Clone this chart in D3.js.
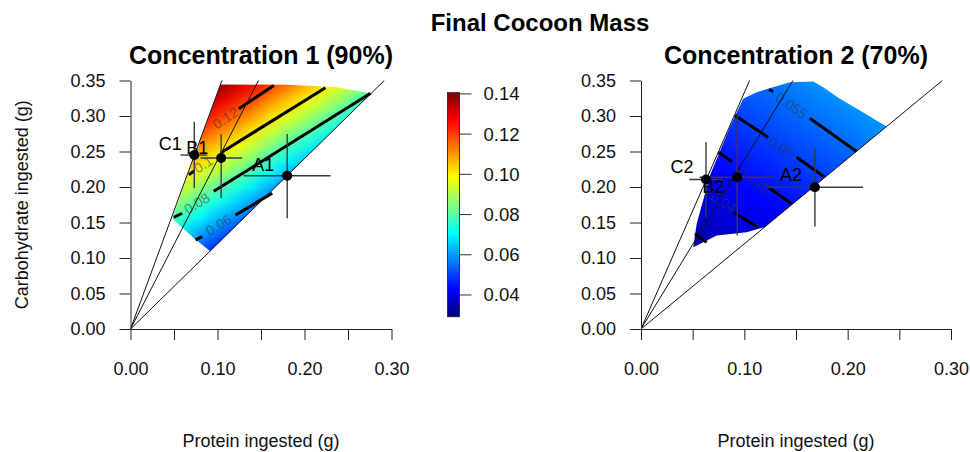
<!DOCTYPE html>
<html><head><meta charset="utf-8">
<script src="https://cdn.jsdelivr.net/npm/d3@7"></script>
<style>
body{margin:0;background:#fff}
svg{display:block;font-family:"Liberation Sans",Arial,Helvetica,sans-serif}
</style>
</head><body>
<svg id="chart" width="970" height="452"></svg>
<script>
// ================= DATA =================
const mainTitle = "Final Cocoon Mass";
const xAxisTitle = "Protein ingested (g)";
const yAxisTitle = "Carbohydrate ingested (g)";
const xTickValues = [0, 0.05, 0.10, 0.15, 0.20, 0.25, 0.30];
const xTickLabels = ["0.00", "", "0.10", "", "0.20", "", "0.30"];
const yTickValues = [0, 0.05, 0.10, 0.15, 0.20, 0.25, 0.30, 0.35];
const yTickLabels = ["0.00", "0.05", "0.10", "0.15", "0.20", "0.25", "0.30", "0.35"];
const colorbarTicks = [0.04, 0.06, 0.08, 0.10, 0.12, 0.14];
const colorbarLabels = ["0.04", "0.06", "0.08", "0.10", "0.12", "0.14"];
const massRange = [0.0292, 0.1406];
const railSlopes = [1.2, 2.38, 3.33];

// ---- Concentration 1 ----
const title1 = "Concentration 1 (90%)";
const dietLabels1 = ["A1", "B1", "C1"];
const protein1 = [0.1801, 0.1042, 0.0733];
const carb1 = [0.2159, 0.2408, 0.2450];
const proteinLo1 = [0.1302, 0.0805, 0.0575];
const proteinHi1 = [0.2299, 0.1284, 0.0882];
const carbLo1 = [0.1559, 0.1845, 0.1982];
const carbHi1 = [0.2746, 0.2746, 0.2920];
const gridProtein1 = [0.04, 0.06, 0.08, 0.10, 0.12, 0.14, 0.16, 0.18, 0.20, 0.22, 0.24, 0.26, 0.28, 0.30];
const gridCarb1 = [0.10, 0.12, 0.14, 0.16, 0.18, 0.20, 0.22, 0.24, 0.26, 0.28, 0.30, 0.32, 0.34, 0.36];
const massGrid1 = [
  [null, 0.053, 0.047, 0.041, 0.035, null, null, null, null, null, null, null, null, null],
  [0.068, 0.061, 0.055, 0.049, 0.043, 0.037, null, null, null, null, null, null, null, null],
  [0.076, 0.069, 0.063, 0.057, 0.051, 0.045, 0.038, null, null, null, null, null, null, null],
  [0.084, 0.077, 0.071, 0.065, 0.059, 0.053, 0.046, 0.040, null, null, null, null, null, null],
  [0.092, 0.085, 0.079, 0.073, 0.067, 0.061, 0.054, 0.048, 0.042, null, null, null, null, null],
  [0.100, 0.093, 0.087, 0.081, 0.075, 0.069, 0.062, 0.056, 0.050, 0.044, null, null, null, null],
  [0.108, 0.101, 0.095, 0.089, 0.083, 0.077, 0.070, 0.064, 0.058, 0.052, 0.046, null, null, null],
  [0.116, 0.109, 0.103, 0.097, 0.091, 0.085, 0.078, 0.072, 0.066, 0.060, 0.054, 0.047, null, null],
  [null, 0.117, 0.111, 0.105, 0.099, 0.093, 0.086, 0.080, 0.074, 0.068, 0.062, 0.055, 0.049, null],
  [null, 0.125, 0.119, 0.113, 0.107, 0.101, 0.094, 0.088, 0.082, 0.076, 0.070, 0.063, 0.057, 0.051],
  [null, 0.133, 0.127, 0.121, 0.115, 0.109, 0.102, 0.096, 0.090, 0.084, 0.078, 0.071, 0.065, 0.059],
  [null, null, 0.135, 0.129, 0.123, 0.117, 0.110, 0.104, 0.098, 0.092, 0.086, 0.079, 0.073, 0.067],
  [null, null, 0.143, 0.137, 0.131, 0.125, 0.118, 0.112, 0.106, 0.100, 0.094, 0.087, 0.081, 0.075],
  [null, null, 0.151, 0.145, 0.139, 0.133, 0.126, 0.120, 0.114, 0.108, 0.102, 0.095, 0.089, 0.083]
];
const hull1 = [[0.0479, 0.1555], [0.1034, 0.3444], [0.1800, 0.3440], [0.2350, 0.3410], [0.2765, 0.3318],
               [0.0915, 0.1095], [0.0728, 0.1280]];
const contourLabels1 = ["0.06", "0.08", "0.1", "0.12"];
const contourSegments1 = [
  [[[0.0747, 0.1254], [0.0824, 0.1300]], [[0.1207, 0.1606], [0.1629, 0.1911]]],
  [[[0.0498, 0.1573], [0.0594, 0.1630]], [[0.0957, 0.1939], [0.2759, 0.3320]]],
  [[[0.0670, 0.2173], [0.0736, 0.2230]], [[0.1034, 0.2479], [0.2241, 0.3399]]],
  [[[0.1245, 0.3103], [0.1647, 0.3430]]]
];
const contourLabelAt1 = [[0.1015, 0.1465], [0.0762, 0.1770], [0.0837, 0.2320], [0.1090, 0.2970]];

// ---- Concentration 2 ----
const title2 = "Concentration 2 (70%)";
const dietLabels2 = ["A2", "B2", "C2"];
const protein2 = [0.1683, 0.0931, 0.0629];
const carb2 = [0.1997, 0.2138, 0.2106];
const proteinLo2 = [0.1216, 0.0567, 0.0467];
const proteinHi2 = [0.2150, 0.1296, 0.0790];
const carbLo2 = [0.1444, 0.1317, 0.1575];
const carbHi2 = [0.2561, 0.3031, 0.2631];
const gridProtein2 = [0.04, 0.06, 0.08, 0.10, 0.12, 0.14, 0.16, 0.18, 0.20, 0.22, 0.24, 0.26];
const gridCarb2 = [0.10, 0.12, 0.14, 0.16, 0.18, 0.20, 0.22, 0.24, 0.26, 0.28, 0.30, 0.32, 0.34, 0.36];
const massGrid2 = [
  [0.0318, 0.0332, 0.0347, 0.0361, 0.0376, 0.0390, 0.0405, 0.0419, 0.0434, 0.0448, 0.0463, 0.0477],
  [0.0332, 0.0347, 0.0361, 0.0376, 0.0390, 0.0405, 0.0419, 0.0434, 0.0448, 0.0463, 0.0477, 0.0492],
  [0.0347, 0.0361, 0.0376, 0.0390, 0.0405, 0.0419, 0.0434, 0.0448, 0.0463, 0.0477, 0.0492, 0.0506],
  [0.0361, 0.0376, 0.0390, 0.0405, 0.0419, 0.0434, 0.0448, 0.0463, 0.0477, 0.0492, 0.0506, 0.0521],
  [0.0376, 0.0390, 0.0405, 0.0419, 0.0434, 0.0448, 0.0463, 0.0477, 0.0492, 0.0506, 0.0521, 0.0535],
  [0.0390, 0.0405, 0.0419, 0.0434, 0.0448, 0.0463, 0.0477, 0.0492, 0.0506, 0.0521, 0.0535, 0.0550],
  [0.0405, 0.0419, 0.0434, 0.0448, 0.0463, 0.0477, 0.0492, 0.0506, 0.0521, 0.0535, 0.0550, 0.0564],
  [0.0419, 0.0434, 0.0448, 0.0463, 0.0477, 0.0492, 0.0506, 0.0521, 0.0535, 0.0550, 0.0564, 0.0579],
  [0.0434, 0.0448, 0.0463, 0.0477, 0.0492, 0.0506, 0.0521, 0.0535, 0.0550, 0.0564, 0.0579, 0.0593],
  [0.0448, 0.0463, 0.0477, 0.0492, 0.0506, 0.0521, 0.0535, 0.0550, 0.0564, 0.0579, 0.0593, 0.0608],
  [0.0463, 0.0477, 0.0492, 0.0506, 0.0521, 0.0535, 0.0550, 0.0564, 0.0579, 0.0593, 0.0608, 0.0622],
  [0.0477, 0.0492, 0.0506, 0.0521, 0.0535, 0.0550, 0.0564, 0.0579, 0.0593, 0.0608, 0.0622, 0.0637],
  [0.0492, 0.0506, 0.0521, 0.0535, 0.0550, 0.0564, 0.0579, 0.0593, 0.0608, 0.0622, 0.0637, 0.0651],
  [0.0506, 0.0521, 0.0535, 0.0550, 0.0564, 0.0579, 0.0593, 0.0608, 0.0622, 0.0637, 0.0651, 0.0666]
];
const hull2 = [[0.0506, 0.1152], [0.0539, 0.1482], [0.0667, 0.2162], [0.0861, 0.2850], [0.0989, 0.3242],
               [0.1119, 0.3335], [0.1441, 0.3476], [0.1667, 0.3486], [0.1763, 0.3406], [0.1925, 0.3242],
               [0.2118, 0.3077], [0.2376, 0.2851], [0.1195, 0.1434], [0.1022, 0.1363], [0.0732, 0.1317]];
const contourLabels2 = ["", "0.04", "0.045", "0.05", "0.055"];
const contourSegments2 = [
  [[[0.0522, 0.1341], [0.0635, 0.1223]]],
  [[[0.0893, 0.1645], [0.1134, 0.1434]]],
  [[[0.0748, 0.2490], [0.0877, 0.2359]], [[0.1231, 0.1997], [0.1457, 0.1763]]],
  [[[0.0909, 0.3007], [0.1231, 0.2701]], [[0.1506, 0.2420], [0.1779, 0.2138]]],
  [[[0.1238, 0.3373], [0.1280, 0.3345]], [[0.1634, 0.2969], [0.2086, 0.2500]]]
];
const contourLabelAt2 = [[0.0580, 0.1280], [0.0796, 0.1786], [0.1086, 0.2092], [0.1361, 0.2561], [0.1457, 0.3148]];

// ================= LAYOUT / STYLE =================
const FONT = '"Liberation Sans", Arial, Helvetica, sans-serif';
const plotTop = 80.5, plotBottom = 329;
const panels = [
  { left: 130.5, right: 391.5, title: title1, labels: dietLabels1, px: protein1, py: carb1,
    pxLo: proteinLo1, pxHi: proteinHi1, pyLo: carbLo1, pyHi: carbHi1,
    gx: gridProtein1, gy: gridCarb1, grid: massGrid1, hull: hull1,
    cLabels: contourLabels1, cSegs: contourSegments1, cLabelAt: contourLabelAt1,
    labelDy: [-11, -10, -11], yTitle: true },
  { left: 641, right: 951, title: title2, labels: dietLabels2, px: protein2, py: carb2,
    pxLo: proteinLo2, pxHi: proteinHi2, pyLo: carbLo2, pyHi: carbHi2,
    gx: gridProtein2, gy: gridCarb2, grid: massGrid2, hull: hull2,
    cLabels: contourLabels2, cSegs: contourSegments2, cLabelAt: contourLabelAt2,
    labelDy: [-12, 10, -12], yTitle: false }
];

const jetStops = ["#00007F", "#0000FF", "#007FFF", "#00FFFF", "#7FFF7F", "#FFFF00", "#FF7F00", "#FF0000", "#7F0000"];
const color = d3.scaleLinear()
  .domain(jetStops.map((_, i) => massRange[0] + i * (massRange[1] - massRange[0]) / (jetStops.length - 1)))
  .range(jetStops).interpolate(d3.interpolateRgb).clamp(true);

const svg = d3.select("#chart");
svg.append("rect").attr("width", 970).attr("height", 452).attr("fill", "#fff");

svg.append("text").attr("x", 540).attr("y", 31).attr("text-anchor", "middle")
  .attr("font-size", 24).attr("font-weight", "bold").attr("fill", "#000").text(mainTitle);

const defs = svg.append("defs");

panels.forEach((p, pi) => {
  const x = d3.scaleLinear().domain([0, 0.30]).range([p.left, p.right]);
  const y = d3.scaleLinear().domain([0, 0.35]).range([plotBottom, plotTop]);
  const g = svg.append("g");

  // plot clip
  const plotClipId = "plotclip" + pi;
  defs.append("clipPath").attr("id", plotClipId).append("rect")
    .attr("x", p.left).attr("y", plotTop - 1).attr("width", 400).attr("height", plotBottom - plotTop + 1);

  // region clip
  const hullClipId = "hullclip" + pi;
  defs.append("clipPath").attr("id", hullClipId).append("path")
    .attr("d", d3.line().x(d => x(d[0])).y(d => y(d[1])).curve(d3.curveLinearClosed)(p.hull));

  // heat surface: small raster of grid nodes, smoothed when scaled to plot coordinates
  const nC = p.gx.length, nR = p.gy.length;
  const small = document.createElement("canvas");
  small.width = nC; small.height = nR;
  const sctx = small.getContext("2d");
  const img = sctx.createImageData(nC, nR);
  for (let r = 0; r < nR; r++) {
    for (let c = 0; c < nC; c++) {
      const v = p.grid[r][c];
      const idx = ((nR - 1 - r) * nC + c) * 4;
      if (v === null) { img.data[idx + 3] = 0; continue; }
      const col = d3.rgb(color(v));
      img.data[idx] = col.r; img.data[idx + 1] = col.g; img.data[idx + 2] = col.b; img.data[idx + 3] = 255;
    }
  }
  sctx.putImageData(img, 0, 0);
  const stepX = p.gx[1] - p.gx[0], stepY = p.gy[1] - p.gy[0];
  const bx0 = x(p.gx[0] - stepX / 2), bx1 = x(p.gx[nC - 1] + stepX / 2);
  const by0 = y(p.gy[nR - 1] + stepY / 2), by1 = y(p.gy[0] - stepY / 2);
  const bw = Math.ceil(bx1 - bx0), bh = Math.ceil(by1 - by0);
  const big = document.createElement("canvas");
  big.width = bw; big.height = bh;
  const bctx = big.getContext("2d");
  bctx.imageSmoothingEnabled = true;
  bctx.imageSmoothingQuality = "low";
  bctx.drawImage(small, 0, 0, bw, bh);
  g.append("g").attr("clip-path", `url(#${hullClipId})`)
    .append("image").attr("x", bx0).attr("y", by0).attr("width", bw).attr("height", bh)
    .attr("preserveAspectRatio", "none").attr("href", big.toDataURL());

  // contour lines
  const cg = g.append("g");
  p.cSegs.forEach((segs, li) => {
    segs.forEach(s => {
      cg.append("line").attr("x1", x(s[0][0])).attr("y1", y(s[0][1]))
        .attr("x2", x(s[1][0])).attr("y2", y(s[1][1]))
        .attr("stroke", "#000").attr("stroke-width", 3);
    });
    if (p.cLabels[li]) {
      const longest = segs.reduce((a, b) =>
        Math.hypot(x(b[1][0]) - x(b[0][0]), y(b[1][1]) - y(b[0][1])) >
        Math.hypot(x(a[1][0]) - x(a[0][0]), y(a[1][1]) - y(a[0][1])) ? b : a);
      let ang = Math.atan2(y(longest[1][1]) - y(longest[0][1]), x(longest[1][0]) - x(longest[0][0])) * 180 / Math.PI;
      if (ang > 90) ang -= 180; if (ang < -90) ang += 180;
      const lx = x(p.cLabelAt[li][0]), ly = y(p.cLabelAt[li][1]);
      cg.append("text").attr("transform", `translate(${lx},${ly}) rotate(${ang})`)
        .attr("text-anchor", "middle").attr("dominant-baseline", "central")
        .attr("font-size", 14).attr("fill", "#333").attr("fill-opacity", 0.55).text(p.cLabels[li]);
    }
  });

  // rails
  g.append("g").attr("clip-path", `url(#${plotClipId})`).selectAll("line").data(railSlopes).join("line")
    .attr("x1", x(0)).attr("y1", y(0))
    .attr("x2", k => x(Math.min(0.35 / k, 0.30))).attr("y2", k => y(Math.min(0.35, 0.30 * k)))
    .attr("stroke", "#111").attr("stroke-width", 1);

  // error bars
  const eb = g.append("g").attr("stroke", "#3a3a3a").attr("stroke-width", 1.4);
  p.px.forEach((v, i) => {
    eb.append("line").attr("x1", x(p.pxLo[i])).attr("x2", x(p.pxHi[i])).attr("y1", y(p.py[i])).attr("y2", y(p.py[i]));
    eb.append("line").attr("x1", x(v)).attr("x2", x(v)).attr("y1", y(p.pyLo[i])).attr("y2", y(p.pyHi[i]));
  });
  // points
  g.append("g").selectAll("circle").data(p.px).join("circle")
    .attr("cx", d => x(d)).attr("cy", (d, i) => y(p.py[i])).attr("r", 5).attr("fill", "#000");
  // point labels
  g.append("g").selectAll("text").data(p.labels).join("text")
    .attr("x", (d, i) => x(p.px[i]) - 24).attr("y", (d, i) => y(p.py[i]) + p.labelDy[i])
    .attr("text-anchor", "middle").attr("dominant-baseline", "central")
    .attr("font-size", 18).attr("fill", "#000").text(d => d);

  // axes
  const xAxis = g.append("g").attr("transform", `translate(0,${plotBottom})`)
    .call(d3.axisBottom(x).tickValues(xTickValues).tickFormat((d, i) => xTickLabels[i])
      .tickSize(11).tickSizeOuter(0).tickPadding(22));
  const yAxis = g.append("g").attr("transform", `translate(${x(0)},0)`)
    .call(d3.axisLeft(y).tickValues(yTickValues).tickFormat((d, i) => yTickLabels[i])
      .tickSize(11).tickSizeOuter(0).tickPadding(14));
  [xAxis, yAxis].forEach(a => {
    a.attr("font-family", FONT).attr("font-size", 18);
    a.selectAll("path,line").attr("stroke", "#222").attr("stroke-width", 1);
    a.selectAll("text").attr("fill", "#111");
  });

  // titles
  g.append("text").attr("x", (p.left + p.right) / 2).attr("y", 64).attr("text-anchor", "middle")
    .attr("font-size", 25).attr("font-weight", "bold").attr("fill", "#000").text(p.title);
  g.append("text").attr("x", (p.left + p.right) / 2).attr("y", 447).attr("text-anchor", "middle")
    .attr("font-size", 18).attr("fill", "#111").text(xAxisTitle);
  if (p.yTitle) {
    g.append("text").attr("transform", `translate(28,${(plotTop + plotBottom) / 2}) rotate(-90)`)
      .attr("text-anchor", "middle").attr("font-size", 18).attr("fill", "#111").text(yAxisTitle);
  }
});

// colorbar
const cbX = 447.5, cbW = 12;
const cbY = d3.scaleLinear().domain(massRange).range([316.7, 92.7]);
const cb = svg.append("g");
const nStrips = 224;
const strips = d3.range(nStrips).map(i => massRange[0] + (i + 0.5) * (massRange[1] - massRange[0]) / nStrips);
const stripH = (cbY(massRange[0]) - cbY(massRange[1])) / nStrips;
cb.selectAll("rect.s").data(strips).join("rect").attr("class", "s")
  .attr("x", cbX).attr("width", cbW)
  .attr("y", d => cbY(d) - stripH / 2 - 0.3).attr("height", stripH + 0.6)
  .attr("fill", d => color(d));
cb.append("rect").attr("x", cbX).attr("y", cbY(massRange[1])).attr("width", cbW)
  .attr("height", cbY(massRange[0]) - cbY(massRange[1])).attr("fill", "none").attr("stroke", "#333").attr("stroke-width", 1);
cb.selectAll("line.t").data(colorbarTicks).join("line").attr("class", "t")
  .attr("x1", cbX + cbW).attr("x2", cbX + cbW + 12).attr("y1", d => cbY(d)).attr("y2", d => cbY(d))
  .attr("stroke", "#333").attr("stroke-width", 1);
cb.selectAll("text").data(colorbarLabels).join("text")
  .attr("x", cbX + cbW + 24).attr("y", (d, i) => cbY(colorbarTicks[i]))
  .attr("dominant-baseline", "central").attr("font-size", 18.5).attr("fill", "#111").text(d => d);
</script>
</body></html>
